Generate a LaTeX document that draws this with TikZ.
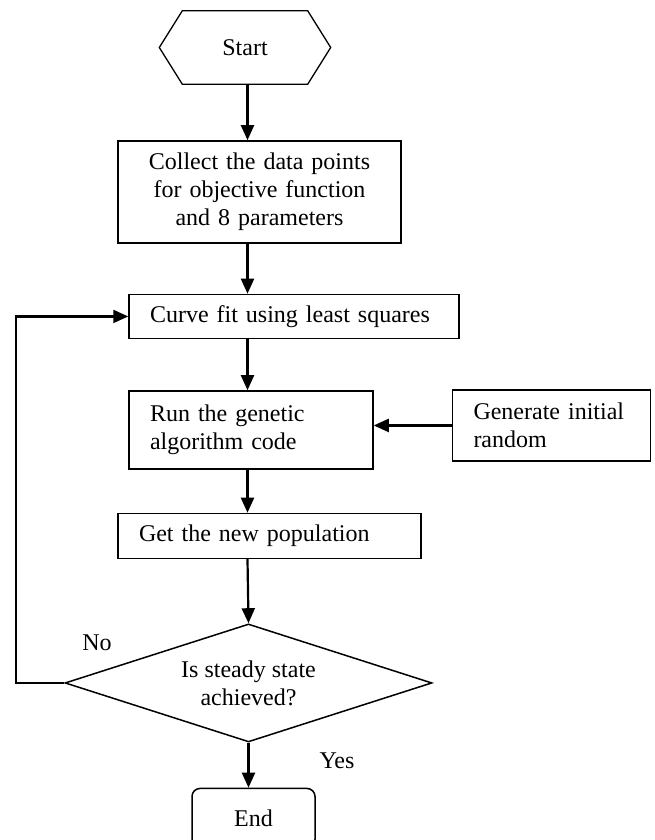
\documentclass[tikz,border=0pt]{standalone}
\usepackage{fontspec}
\setmainfont{Liberation Serif}
\usepackage{tikz}
\usetikzlibrary{arrows.meta,positioning,shapes.geometric}

\begin{document}
\begin{tikzpicture}[
  x=1pt, y=1pt,
  font=\fontsize{24}{28}\selectfont,
  box/.style={draw,line width=1.5pt,inner xsep=21pt,inner ysep=4pt,align=left},
  arr/.style={-{Triangle[length=15pt,width=13pt]},line width=2.2pt}
]
\useasboundingbox (0,0) rectangle (654,-840);
\coordinate (axis) at (247.5,0);

\node[minimum width=125pt,minimum height=73pt,inner sep=0pt] (start) at (245,-47.5) {Start};
\draw[line width=1.3pt] (start.north west) -- (start.north east) -- ([xshift=23pt]start.east)
  -- (start.south east) -- (start.south west) -- ([xshift=-23pt]start.west) -- cycle;

\node[box, align=center, text width=241pt, minimum height=102pt, below=56pt of start, xshift=14.5pt] (collect)
  {Collect the data points\\for objective function\\and 8 parameters};
\node[box, text width=288pt, minimum height=44pt, below=50pt of collect, xshift=34.5pt] (curve)
  {Curve fit using least squares};
\node[box, text width=202pt, minimum height=78pt, below=51pt of curve, xshift=-43pt] (run)
  {Run the genetic\\algorithm code};
\node[box, text width=156pt, minimum height=71pt, right=78pt of run, yshift=4.5pt] (gen)
  {Generate initial\\random};
\node[box, text width=261pt, minimum height=45pt, below=43pt of run, xshift=18.5pt] (get)
  {Get the new population};
\node[diamond, draw, line width=1.5pt, aspect=3.1, inner sep=0pt, align=center,
  minimum width=367pt, minimum height=118pt, below=64pt of get, xshift=-21pt] (test)
  {Is steady state\\achieved?};
\node[draw, line width=1.5pt, rounded corners=8pt, minimum width=123pt, minimum height=59pt,
  below=45pt of test, xshift=5pt] (end) {End};

\node (no) at (97,-643) {No};
\node (yes) at (337,-761) {Yes};

\draw[arr] (start.south -| axis) -- (collect.north -| axis);
\draw[arr] (collect.south -| axis) -- (curve.north -| axis);
\draw[arr] (curve.south -| axis) -- (run.north -| axis);
\draw[arr] (gen.west) -- (run.east |- gen.west);
\draw[arr] (run.south -| axis) -- (get.north -| axis);
\draw[arr] (get.south -| axis) -- (test.north);
\draw[arr] (test.south) -- (end.north -| test.south);
\draw[arr] (test.west) -- ++(-48pt,0) |- (curve.west);
\end{tikzpicture}
\end{document}
